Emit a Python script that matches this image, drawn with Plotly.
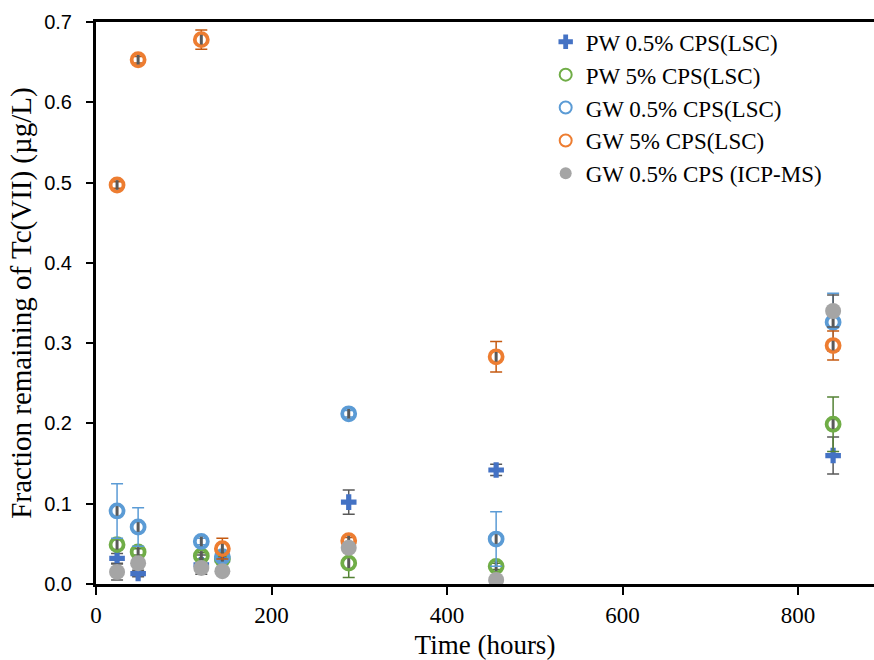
import plotly.graph_objects as go

time_h = [24, 48, 120, 144, 288, 456, 840]

pw05_lsc = [0.032, 0.013, 0.024, 0.030, 0.102, 0.142, 0.160]
pw05_err = [0.006, 0.004, 0.012, 0.004, 0.015, 0.007, 0.023]

pw5_lsc = [0.049, 0.040, 0.035, 0.031, 0.026, 0.022, 0.199]
pw5_err = [0.006, 0.004, 0.004, 0.004, 0.018, 0.004, 0.034]

gw05_lsc = [0.091, 0.071, 0.053, 0.034, 0.212, 0.056, 0.326]
gw05_err = [0.034, 0.024, 0.004, 0.004, 0.004, 0.034, 0.036]

gw5_lsc = [0.497, 0.653, 0.678, 0.044, 0.054, 0.283, 0.297]
gw5_err = [0.004, 0.004, 0.012, 0.013, 0.004, 0.019, 0.018]

gw05_icp = [0.015, 0.026, 0.020, 0.016, 0.045, 0.005, 0.340]
gw05_icp_err = [0.010, 0.004, 0.004, 0.004, 0.004, 0.004, 0.020]

y_ticks = [0.0, 0.1, 0.2, 0.3, 0.4, 0.5, 0.6, 0.7]
x_ticks = [0, 200, 400, 600, 800]

SERIF = "Liberation Serif, Times New Roman, serif"
SANS = "Liberation Sans, Arial, sans-serif"
DARK = "#595959"

series = [
    ("PW 0.5% CPS(LSC)", pw05_lsc, pw05_err, "cross", "#4472C4", DARK, 13, 0),
    ("PW 5% CPS(LSC)", pw5_lsc, pw5_err, "circle-open", "#70AD47", "#548235", 13, 3.8),
    ("GW 0.5% CPS(LSC)", gw05_lsc, gw05_err, "circle-open", "#5B9BD5", "#5B9BD5", 13, 3.8),
    ("GW 5% CPS(LSC)", gw5_lsc, gw5_err, "circle-open", "#ED7D31", "#C55A11", 13, 3.8),
    ("GW 0.5% CPS (ICP-MS)", gw05_icp, gw05_icp_err, "circle", "#A5A5A5", DARK, 16, 0),
]

fig = go.Figure()
for name, vals, errs, sym, col, ecol, size, lw in series:
    marker = dict(symbol=sym, color=col, size=size)
    if lw:
        marker["line"] = dict(color=col, width=lw)
    else:
        marker["line"] = dict(width=0)
    fig.add_trace(go.Scatter(
        x=time_h, y=vals, mode="markers", name=name, marker=marker,
        error_y=dict(type="data", array=errs, visible=True, color=ecol,
                     thickness=1.5, width=6),
    ))
    if sym == "circle-open":
        # dark inner bar visible through the open circle
        fig.add_trace(go.Scatter(
            x=time_h, y=vals, mode="markers", showlegend=False, hoverinfo="skip",
            marker=dict(size=1, opacity=0),
            error_y=dict(type="constant", value=0.006, visible=True, color=DARK,
                         thickness=3, width=0),
        ))

fig.update_layout(
    width=874, height=660,
    margin=dict(l=96, r=0, t=22, b=76),
    paper_bgcolor="white", plot_bgcolor="white",
    font=dict(family=SERIF, size=19, color="black"),
    showlegend=True,
    legend=dict(x=0.578, y=1.003, xanchor="left", yanchor="top",
                bgcolor="rgba(0,0,0,0)", font=dict(size=23, family=SERIF),
                itemsizing="constant", tracegroupgap=0),
)
fig.update_xaxes(
    range=[0, 886.6], tickvals=x_ticks, ticktext=[str(v) for v in x_ticks],
    tickfont=dict(family=SERIF, size=23),
    showgrid=False, zeroline=False, showline=True, linecolor="black",
    linewidth=3, mirror=True, ticks="outside", ticklen=8, tickwidth=2,
    tickcolor="black",
    title=dict(text="Time (hours)", font=dict(size=27, family=SERIF), standoff=11),
)
fig.update_yaxes(
    range=[0, 0.7], tickvals=y_ticks, ticktext=[f"{v:.1f}" for v in y_ticks],
    tickfont=dict(family=SANS, size=20),
    ticklabelstandoff=10,
    showgrid=False, zeroline=False, showline=True, linecolor="black",
    linewidth=3, mirror=False, ticks="outside", ticklen=7, tickwidth=1.5,
    tickcolor="black",
    title=dict(text="Fraction remaining of Tc(VII) (µg/L)", font=dict(size=29, family=SERIF), standoff=5),
)

fig.write_html("out.html")
